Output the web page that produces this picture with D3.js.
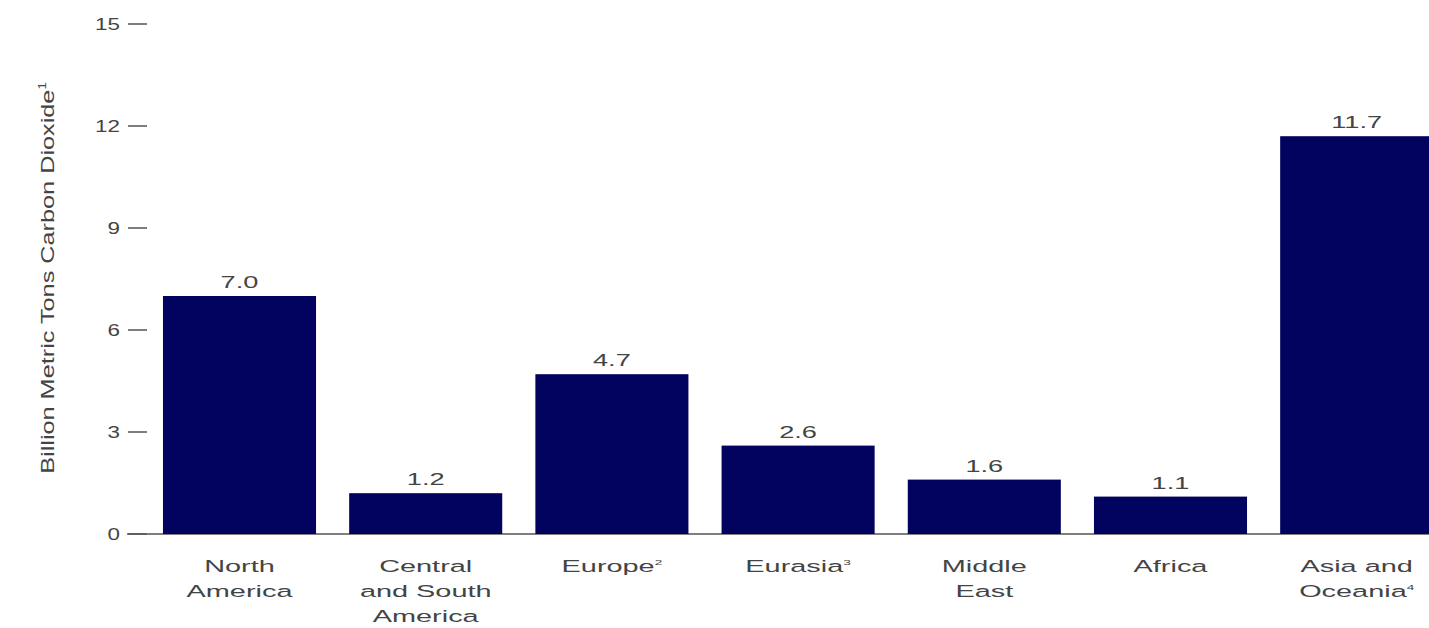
<!DOCTYPE html>
<html>
<head>
<meta charset="utf-8">
<script src="https://cdn.jsdelivr.net/npm/d3@7"></script>
<style>
  html, body { margin: 0; padding: 0; background: #fff; }
  svg { display: block; }
  text { font-family: "Liberation Sans", Arial, sans-serif; fill: #444; }
</style>
</head>
<body>
<svg id="chart" width="1429" height="628"></svg>
<script>
// Regional energy-related CO2 emissions, billion metric tons
const regions = ["North America", "Central and South America", "Europe", "Eurasia", "Middle East", "Africa", "Asia and Oceania"];
const labelLines = [["North", "America"], ["Central", "and South", "America"], ["Europe"], ["Eurasia"], ["Middle", "East"], ["Africa"], ["Asia and", "Oceania"]];
const footnotes = ["", "", "2", "3", "", "", "4"];
const emissions = [7.0, 1.2, 4.7, 2.6, 1.6, 1.1, 11.7];
const yTicks = [0, 3, 6, 9, 12, 15];
const yTitle = "Billion Metric Tons Carbon Dioxide";
const yTitleNote = "1";

const svg = d3.select("#chart");
const labelStretch = 1.7;  // wide lettering for category and value labels
const tickStretch = 1.4;
const titleStretch = 1.33;

const x = d3.scaleBand()
  .domain(regions)
  .range([146.4, 146.4 + 7 * 186.2])
  .paddingInner(0.178)
  .paddingOuter(0.089);

const y = d3.scaleLinear().domain([0, 15]).range([534, 24]);

// baseline
svg.append("line")
  .attr("x1", 127).attr("x2", 1429)
  .attr("y1", y(0)).attr("y2", y(0))
  .attr("stroke", "#555").attr("stroke-width", 1.5);

// y ticks and labels
const tickG = svg.append("g");
yTicks.forEach(t => {
  tickG.append("line")
    .attr("x1", 128).attr("x2", 147)
    .attr("y1", y(t)).attr("y2", y(t))
    .attr("stroke", "#555").attr("stroke-width", 1.5);
  tickG.append("text")
    .attr("transform", `translate(120,${y(t) + 6}) scale(${tickStretch},1)`)
    .attr("text-anchor", "end")
    .attr("font-size", 16)
    .text(t);
});

// y axis title
const yt = svg.append("text")
  .attr("transform", `translate(54,278) rotate(-90) scale(${titleStretch},1)`)
  .attr("text-anchor", "middle")
  .attr("font-size", 19);
yt.append("tspan").text(yTitle);
yt.append("tspan").attr("font-size", 10).attr("dy", -8).text(yTitleNote);

// bars
svg.append("g").selectAll("rect")
  .data(regions)
  .join("rect")
  .attr("x", d => x(d))
  .attr("width", x.bandwidth())
  .attr("y", (d, i) => y(emissions[i]))
  .attr("height", (d, i) => y(0) - y(emissions[i]))
  .attr("fill", "#02025f");

// value labels
svg.append("g").selectAll("text")
  .data(regions)
  .join("text")
  .attr("transform", (d, i) => `translate(${x(d) + x.bandwidth() / 2},${y(emissions[i]) - 8}) scale(${labelStretch},1)`)
  .attr("text-anchor", "middle")
  .attr("font-size", 16)
  .text((d, i) => emissions[i].toFixed(1));

// category labels
regions.forEach((r, i) => {
  const cx = x(r) + x.bandwidth() / 2;
  const lines = labelLines[i];
  lines.forEach((ln, j) => {
    const t = svg.append("text")
      .attr("transform", `translate(${cx},${572 + j * 25}) scale(${labelStretch},1)`)
      .attr("text-anchor", "middle")
      .attr("font-size", 17);
    t.append("tspan").text(ln);
    if (j === lines.length - 1 && footnotes[i]) {
      t.append("tspan").attr("font-size", 8).attr("dy", -7).text(footnotes[i]);
    }
  });
});
</script>
</body>
</html>
